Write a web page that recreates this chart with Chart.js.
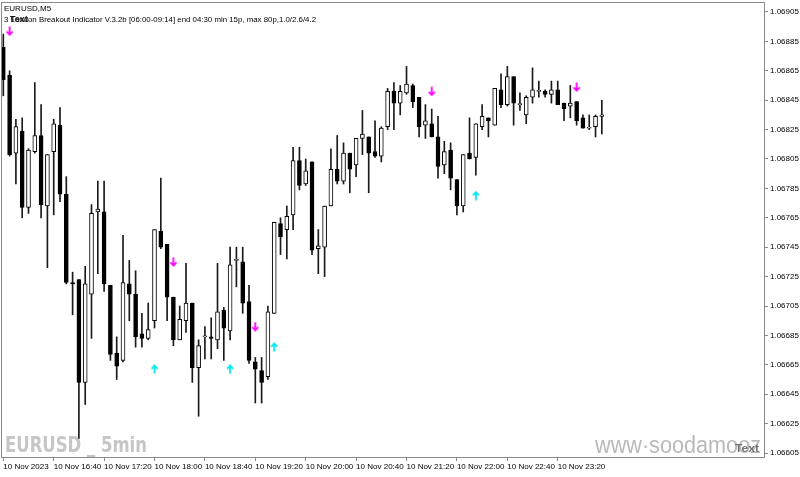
<!DOCTYPE html>
<html><head><meta charset="utf-8">
<script src="https://cdn.jsdelivr.net/npm/chart.js@4.4.0/dist/chart.umd.min.js"></script>
<style>html,body{margin:0;padding:0;background:#fff;overflow:hidden}</style>
</head><body>
<canvas id="c" width="800" height="477" style="display:block;width:800px;height:477px"></canvas>
<script>
const symbolTitle = "EURUSD,M5";
const indicatorLine = "3 London Breakout Indicator V.3.2b [06:00-09:14] end 04:30 min 15p, max 80p,1.0/2.6/4.2";
const overlayTag = "Text";
const watermarkLeft = "EURUSD _ 5min";
const watermarkRight = "www\u00B7soodamooz";

const times = [
"16:00","16:05","16:10","16:15","16:20","16:25","16:30","16:35","16:40","16:45","16:50","16:55",
"17:00","17:05","17:10","17:15","17:20","17:25","17:30","17:35","17:40","17:45","17:50","17:55",
"18:00","18:05","18:10","18:15","18:20","18:25","18:30","18:35","18:40","18:45","18:50","18:55",
"19:00","19:05","19:10","19:15","19:20","19:25","19:30","19:35","19:40","19:45","19:50","19:55",
"20:00","20:05","20:10","20:15","20:20","20:25","20:30","20:35","20:40","20:45","20:50","20:55",
"21:00","21:05","21:10","21:15","21:20","21:25","21:30","21:35","21:40","21:45","21:50","21:55",
"22:00","22:05","22:10","22:15","22:20","22:25","22:30","22:35","22:40","22:45","22:50","22:55",
"23:00","23:05","23:10","23:15","23:20","23:25","23:30","23:35","23:40","23:45","23:50","23:55"];

const opens = [
1.06881,1.06862,1.06809,1.06824,1.06772,1.06810,1.06821,1.06773,1.06810,1.06828,
1.06781,1.06721,1.06723,1.06653,1.06713,1.06769,1.06769,1.06719,1.06673,1.06668,
1.06720,1.06713,1.06686,1.06683,1.06695,1.06756,1.06747,1.06711,1.06682,1.06695,
1.06707,1.06663,1.06684,1.06684,1.06682,1.06702,1.06688,1.06736,1.06735,1.06708,
1.06667,1.06661,1.06657,1.06700,1.06761,1.06757,1.06767,1.06804,1.06788,1.06803,
1.06744,1.06745,1.06773,1.06798,1.06790,1.06809,1.06801,1.06819,1.06820,1.06810,
1.06807,1.06827,1.06851,1.06843,1.06850,1.06855,1.06847,1.06828,1.06829,1.06820,
1.06801,1.06811,1.06791,1.06773,1.06809,1.06806,1.06827,1.06833,1.06828,1.06852,
1.06842,1.06861,1.06842,1.06835,1.06847,1.06851,1.06851,1.06849,1.06852,1.06843,
1.06841,1.06844,1.06833,1.06826,1.06827,1.06834];
const highs = [
1.06890,1.06865,1.06832,1.06833,1.06812,1.06857,1.06842,1.06808,1.06832,1.06840,
1.06793,1.06728,1.06723,1.06732,1.06774,1.06790,1.06790,1.06719,1.06684,1.06753,
1.06736,1.06729,1.06700,1.06707,1.06757,1.06792,1.06747,1.06711,1.06705,1.06734,
1.06707,1.06682,1.06691,1.06697,1.06734,1.06704,1.06745,1.06745,1.06745,1.06719,
1.06670,1.06670,1.06705,1.06762,1.06765,1.06773,1.06813,1.06813,1.06805,1.06803,
1.06757,1.06773,1.06812,1.06821,1.06816,1.06809,1.06819,1.06838,1.06820,1.06831,
1.06827,1.06853,1.06857,1.06855,1.06868,1.06856,1.06847,1.06842,1.06839,1.06834,
1.06817,1.06816,1.06791,1.06808,1.06833,1.06829,1.06842,1.06833,1.06853,1.06863,
1.06868,1.06861,1.06850,1.06848,1.06867,1.06858,1.06852,1.06858,1.06858,1.06843,
1.06855,1.06844,1.06835,1.06835,1.06835,1.06845];
const lows = [
1.06848,1.06807,1.06788,1.06765,1.06768,1.06809,1.06765,1.06731,1.06767,1.06776,
1.06720,1.06699,1.06615,1.06638,1.06683,1.06727,1.06715,1.06668,1.06655,1.06667,
1.06695,1.06677,1.06677,1.06682,1.06690,1.06744,1.06695,1.06678,1.06682,1.06687,
1.06653,1.06630,1.06669,1.06669,1.06676,1.06668,1.06682,1.06718,1.06700,1.06666,
1.06639,1.06639,1.06655,1.06700,1.06740,1.06737,1.06757,1.06784,1.06787,1.06740,
1.06727,1.06725,1.06773,1.06788,1.06788,1.06782,1.06793,1.06808,1.06782,1.06806,
1.06803,1.06825,1.06825,1.06835,1.06849,1.06840,1.06820,1.06819,1.06820,1.06792,
1.06795,1.06784,1.06767,1.06769,1.06805,1.06794,1.06825,1.06820,1.06828,1.06840,
1.06841,1.06828,1.06838,1.06829,1.06843,1.06847,1.06847,1.06843,1.06842,1.06831,
1.06833,1.06828,1.06826,1.06825,1.06820,1.06822];
const closes = [
1.06859,1.06808,1.06827,1.06772,1.06811,1.06821,1.06774,1.06808,1.06829,1.06781,
1.06721,1.06720,1.06653,1.06720,1.06768,1.06771,1.06720,1.06672,1.06664,1.06721,
1.06713,1.06684,1.06683,1.06689,1.06757,1.06745,1.06711,1.06682,1.06696,1.06707,
1.06663,1.06678,1.06684,1.06683,1.06701,1.06690,1.06733,1.06736,1.06707,1.06668,
1.06662,1.06653,1.06701,1.06762,1.06752,1.06766,1.06804,1.06787,1.06797,1.06743,
1.06746,1.06773,1.06798,1.06790,1.06809,1.06798,1.06819,1.06822,1.06809,1.06807,
1.06826,1.06851,1.06843,1.06851,1.06856,1.06844,1.06827,1.06831,1.06820,1.06800,
1.06810,1.06792,1.06773,1.06808,1.06805,1.06829,1.06834,1.06831,1.06853,1.06842,
1.06861,1.06843,1.06842,1.06847,1.06852,1.06851,1.06849,1.06852,1.06842,1.06839,
1.06843,1.06831,1.06826,1.06826,1.06834,1.06835];

const sellArrowIndex = [1, 27, 40, 68, 91];
const sellArrowPrice = [1.06892, 1.06735, 1.06691, 1.06851, 1.06854];
const buyArrowIndex = [24, 36, 43, 75];
const buyArrowPrice = [1.06662, 1.06662, 1.06677, 1.06780];

const timeTickIndex = [0, 8, 16, 24, 32, 40, 48, 56, 64, 72, 80, 88];
const timeTickText = ["10 Nov 2023","10 Nov 16:40","10 Nov 17:20","10 Nov 18:00","10 Nov 18:40","10 Nov 19:20",
  "10 Nov 20:00","10 Nov 20:40","10 Nov 21:20","10 Nov 22:00","10 Nov 22:40","10 Nov 23:20"];
const priceTicks = [1.06605,1.06625,1.06645,1.06665,1.06685,1.06705,1.06725,1.06745,
  1.06765,1.06785,1.06805,1.06825,1.06845,1.06865,1.06885,1.06905];

const FONT = "'Liberation Sans', Arial, sans-serif";

function makeArrow(color, up) {
  const c = document.createElement('canvas');
  c.width = 8; c.height = 10;
  const g = c.getContext('2d');
  g.strokeStyle = color; g.lineWidth = 1.8; g.lineCap = 'butt';
  g.beginPath();
  if (up) { g.moveTo(4, 9.5); g.lineTo(4, 1.5); } else { g.moveTo(4, 0.5); g.lineTo(4, 8.5); }
  g.stroke();
  g.beginPath();
  if (up) { g.moveTo(1, 4.6); g.lineTo(4, 1.4); g.lineTo(7, 4.6); }
  else { g.moveTo(1, 5.4); g.lineTo(4, 8.6); g.lineTo(7, 5.4); }
  g.stroke();
  return c;
}

const wickData = times.map((t, i) => ({x: i, y: [lows[i], highs[i]]}));
const bodyData = times.map((t, i) => ({x: i, y: [opens[i], closes[i]]}));
const bodyColors = times.map((t, i) => closes[i] < opens[i] ? '#000000' : '#ffffff');
const sellData = sellArrowIndex.map((ix, k) => ({x: ix, y: sellArrowPrice[k]}));
const buyData = buyArrowIndex.map((ix, k) => ({x: ix, y: buyArrowPrice[k]}));

function scaledText(ctx, text, x, y, targetW) {
  const w = ctx.measureText(text).width;
  ctx.save();
  ctx.translate(x, y);
  if (targetW) ctx.scale(targetW / w, 1);
  ctx.fillText(text, 0, 0);
  ctx.restore();
}

const decorPlugin = {
  id: 'decor',
  beforeDatasetsDraw(chart) {
    const ctx = chart.ctx;
    const a = chart.chartArea;
    ctx.save();
    ctx.textBaseline = 'alphabetic';
    ctx.fillStyle = '#c6c6c6';
    ctx.font = "bold 21px 'DejaVu Sans', sans-serif";
    scaledText(ctx, watermarkLeft, a.left + 4, a.bottom - 6, 142);
    ctx.fillStyle = '#b9b9b9';
    ctx.font = "23px " + FONT;
    scaledText(ctx, watermarkRight, 595, a.bottom - 5, 166);
    ctx.restore();
  },
  afterDraw(chart) {
    const ctx = chart.ctx;
    const a = chart.chartArea;
    ctx.save();
    ctx.strokeStyle = '#8a8a8a';
    ctx.lineWidth = 1;
    ctx.strokeRect(a.left + 0.5, a.top + 0.5, a.right - a.left - 1, a.bottom - a.top - 1);
    ctx.fillStyle = '#000';
    ctx.textBaseline = 'alphabetic';
    ctx.font = "8px " + FONT;
    scaledText(ctx, symbolTitle, 4, 11, null);
    scaledText(ctx, indicatorLine, 4, 22, 312);
    ctx.font = "bold 9px " + FONT;
    ctx.fillStyle = '#111';
    scaledText(ctx, overlayTag, 10, 22, null);
    ctx.font = "bold 11px " + FONT;
    ctx.fillStyle = '#767676';
    scaledText(ctx, overlayTag, 735, a.bottom - 6, 24);
    ctx.restore();
  }
};

function zeroPad(ax) { ax.paddingLeft = 0; ax.paddingRight = 0; ax.paddingTop = 0; ax.paddingBottom = 0; }

new Chart(document.getElementById('c').getContext('2d'), {
  type: 'bar',
  data: {
    datasets: [
      {type: 'scatter', data: sellData, pointStyle: makeArrow('#ff00ff', false), pointRadius: 5, order: -2},
      {type: 'scatter', data: buyData, pointStyle: makeArrow('#00e6f0', true), pointRadius: 5, order: -1},
      {data: bodyData, backgroundColor: bodyColors, borderColor: '#000', borderWidth: 1, borderSkipped: false,
       barThickness: 4, grouped: false, minBarLength: 1, order: 0},
      {data: wickData, backgroundColor: '#1a1a1a', borderWidth: 0, barThickness: 1, grouped: false, order: 1}
    ]
  },
  options: {
    responsive: false, animation: false, events: [],
    layout: {autoPadding: false, padding: {left: 1, top: 2, right: 0, bottom: 0}},
    plugins: {legend: {display: false}, tooltip: {enabled: false}, title: {display: false}},
    scales: {
      x: {
        type: 'linear', position: 'bottom', min: -0.365, max: 120.9, offset: false,
        grid: {display: true, drawOnChartArea: false, drawTicks: true, tickLength: 3, color: '#8a8a8a', offset: false},
        border: {display: false},
        ticks: {autoSkip: false, maxRotation: 0, minRotation: 0, align: 'start', padding: 1, color: '#000',
          font: {size: 8, family: FONT},
          callback: (v) => { const k = timeTickIndex.indexOf(v); return k >= 0 ? timeTickText[k] : ''; }},
        afterBuildTicks: (ax) => { ax.ticks = timeTickIndex.map(v => ({value: v})); },
        afterFit: (ax) => { ax.height = 19; zeroPad(ax); }
      },
      y: {
        type: 'linear', position: 'right', min: 1.066016, max: 1.069118,
        grid: {display: true, drawOnChartArea: false, drawTicks: true, tickLength: 3, color: '#8a8a8a'},
        border: {display: false},
        ticks: {color: '#000', padding: 2, font: {size: 8, family: FONT},
          callback: (v) => Number(v).toFixed(5)},
        afterBuildTicks: (ax) => { ax.ticks = priceTicks.map(v => ({value: v})); },
        afterFit: (ax) => { ax.width = 35; zeroPad(ax); }
      }
    }
  },
  plugins: [decorPlugin]
});
</script>
</body></html>
